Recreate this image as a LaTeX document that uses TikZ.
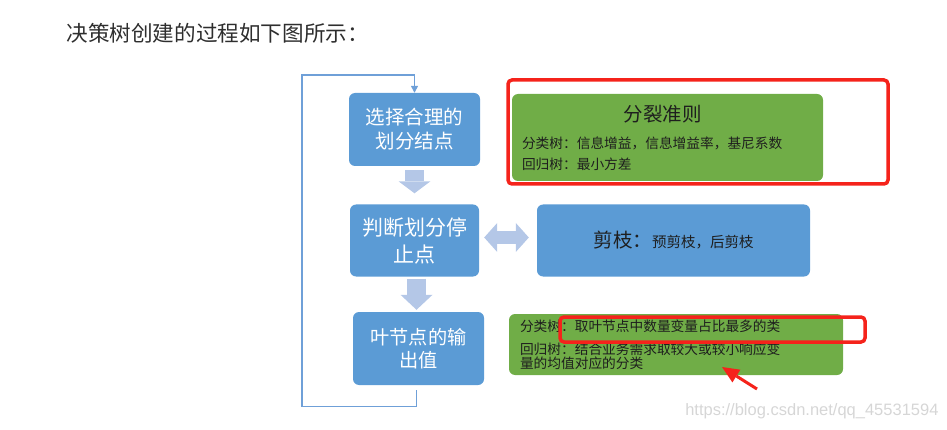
\documentclass[tikz,border=0pt]{standalone}
\usepackage{fontspec}
\usepackage{tikz}
\usetikzlibrary{arrows.meta}
\setmainfont{Noto Sans CJK SC}
\newfontfamily\urlfont{Liberation Sans}
\definecolor{stageblue}{HTML}{5B9BD5}
\definecolor{leafgreen}{HTML}{70AD47}
\definecolor{arrowblue}{HTML}{B4C7E7}
\definecolor{lineblue}{HTML}{6FA0D8}
\definecolor{hlred}{HTML}{F5231B}
\definecolor{textdark}{HTML}{1E1E1E}
\definecolor{titlegray}{HTML}{2E2E2E}
\definecolor{wmgray}{HTML}{D6D6D6}

\begin{document}
\begin{tikzpicture}[x=1pt,y=-1pt,
  stage/.style = {fill=stageblue, rounded corners=6pt, text=white, minimum width=131pt, minimum height=73pt, inner sep=0pt, align=center},
  info/.style = {fill=leafgreen, rounded corners=6pt, text=textdark, inner sep=0pt, align=left},
  fat/.style = {draw=arrowblue, line width=19pt},
  back/.style = {draw=lineblue, line width=1.3pt},
  hl/.style = {draw=hlred, line width=3.5pt, rounded corners=4pt, inner sep=0pt},
  node distance={111pt}]
\useasboundingbox (0,0) rectangle (947,430);
\node (title) [anchor=west, text=titlegray, font=\fontsize{21.6}{22}\selectfont] at (63,33) {决策树创建的过程如下图所示：};
% main column
\node[stage] (1) [font=\fontsize{19.5}{24}\selectfont] at (414.5,129.5) {选择合理的\\划分结点};
\node[stage] (2) [below of=1, minimum width=129pt, minimum height=72pt, font=\fontsize{21}{27}\selectfont] {判断划分停\\止点};
\node[stage] (3) [below of=2, xshift=4pt, yshift=3pt, font=\fontsize{19.2}{23}\selectfont] {叶节点的输\\出值};
% side boxes
\node[info] (g1) [minimum width=311pt, minimum height=87pt, text width=291pt, font=\fontsize{13.7}{21}\selectfont] at (667.5,137.5) {\makebox[281pt]{\fontsize{19.5}{24}\selectfont 分裂准则}\\[6pt]分类树：信息增益，信息增益率，基尼系数\\回归树：最小方差};
\node[stage] (4) [right of=2, node distance=259pt, minimum width=273pt, minimum height=72pt, text=textdark, font=\fontsize{14.5}{18}\selectfont] {{\fontsize{19.5}{24}\selectfont 剪枝：}预剪枝，后剪枝};
\node[info] (g2) [minimum width=334pt, minimum height=61pt, text width=312pt, font=\fontsize{13.7}{14}\selectfont] at (676,344.5) {分类树：取叶节点中数量变量占比最多的类\\[9pt]回归树：结合业务需求取较大或较小响应变\\量的均值对应的分类};
% red marks
\node[hl] (h1) [minimum width=380pt, minimum height=104pt] at (698,132) {};
\node[hl] (h2) [minimum width=305pt, minimum height=25pt] at (712.5,329.5) {};
\coordinate (tail) at (757,389);
\coordinate (tip) at (722,367);
\draw[hlred, line width=3pt, -{Triangle[width=15pt,length=17pt,line width=0pt]}] (tail) -- (tip);
% block arrows
\draw[fat, -{Triangle[width=32pt,length=12pt,line width=0pt]}, shorten <=4pt, shorten >=11pt] (1) -- (2);
\draw[fat, -{Triangle[width=32pt,length=15pt,line width=0pt]}, shorten <=2pt, shorten >=2pt] ([xshift=2pt]2.south) -- ([xshift=-2pt]3.north);
\draw[fat, line width=13pt, {Triangle[width=29pt,length=13pt,line width=0pt]}-{Triangle[width=29pt,length=13pt,line width=0pt]}, shorten <=5pt, shorten >=8pt] ([yshift=3pt]2.east) -- ([yshift=3pt]2.east -| 4.west);
% feedback line
\draw[back, -{Triangle[width=7pt,length=7pt]}] ([yshift=-5pt,xshift=-2pt]3.south) -- ++(0,16) -| (302,75) -| (1.north);
\node (wm) [anchor=east, text=wmgray, font=\urlfont\fontsize{16.5}{18}\selectfont] at (942,411) {https://blog.csdn.net/qq\_45531594};
\end{tikzpicture}
\end{document}
